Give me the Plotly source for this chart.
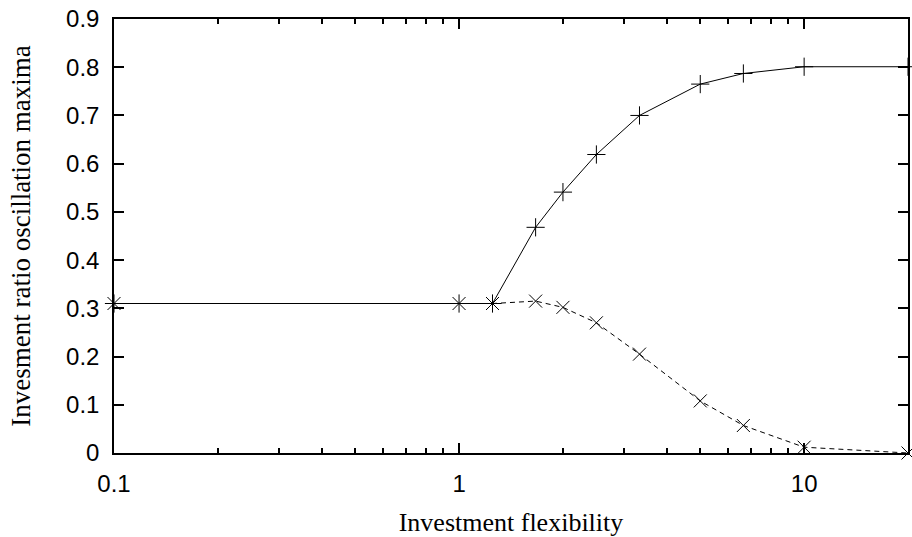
import plotly.graph_objects as go

flexibility = [0.1, 1, 1.25, 1.6667, 2, 2.5, 3.3333, 5, 6.6667, 10, 20]
upper_maxima = [0.31, 0.31, 0.31, 0.468, 0.541, 0.619, 0.700, 0.765, 0.787, 0.801, 0.801]
lower_maxima = [0.31, 0.31, 0.31, 0.315, 0.302, 0.270, 0.205, 0.108, 0.057, 0.012, 0.0]

y_ticks = [0, 0.1, 0.2, 0.3, 0.4, 0.5, 0.6, 0.7, 0.8, 0.9]
y_labels = ["0", "0.1", "0.2", "0.3", "0.4", "0.5", "0.6", "0.7", "0.8", "0.9"]
x_major = [0.1, 1, 10]
x_labels = ["0.1", "1", "10"]
x_minor = [m * d for d in (0.1, 1, 10) for m in range(2, 10) if m * d < 20]

fig = go.Figure()
fig.add_trace(go.Scatter(
    x=flexibility, y=lower_maxima, mode="lines+markers",
    line=dict(color="black", width=1, dash="5px,4px"),
    marker=dict(symbol="x-thin", size=13, line=dict(color="black", width=1)),
    showlegend=False, cliponaxis=False))
fig.add_trace(go.Scatter(
    x=flexibility, y=upper_maxima, mode="lines+markers",
    line=dict(color="black", width=1),
    marker=dict(symbol="cross-thin", size=13, line=dict(color="black", width=1)),
    showlegend=False, cliponaxis=False))

serif = "Liberation Serif, Times New Roman, serif"
fig.update_layout(
    width=912, height=537,
    margin=dict(l=114, r=2, t=19, b=84),
    paper_bgcolor="white", plot_bgcolor="white",
    font=dict(family="Liberation Sans, Arial, sans-serif", size=24, color="black"),
    xaxis=dict(
        type="log", range=[-1, 1.30103],
        tickvals=x_major, ticktext=x_labels,
        ticks="inside", ticklen=10, tickwidth=1.5, tickcolor="black",
        ticklabelstandoff=8, ticklabeloverflow="allow",
        minor=dict(tickvals=x_minor, ticks="inside", ticklen=5, tickwidth=1.5, tickcolor="black", showgrid=False),
        showline=True, linecolor="black", linewidth=1.5, mirror="ticks",
        showgrid=False, zeroline=False,
        title=dict(text="Investment flexibility", font=dict(family=serif, size=26), standoff=18),
    ),
    yaxis=dict(
        range=[0, 0.9], tickvals=y_ticks, ticktext=y_labels,
        ticks="inside", ticklen=10, tickwidth=1.5, tickcolor="black",
        ticklabelstandoff=8, ticklabeloverflow="allow",
        showline=True, linecolor="black", linewidth=1.5, mirror="ticks",
        showgrid=False, zeroline=False,
        title=dict(text="Invesment ratio oscillation maxima", font=dict(family=serif, size=27), standoff=28),
    ),
)

fig.write_html("out.html", config={"displayModeBar": False},
               post_script="document.body.style.margin='0';")
